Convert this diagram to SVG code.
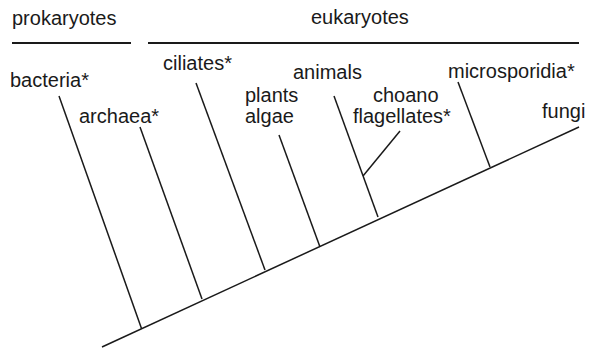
<svg xmlns="http://www.w3.org/2000/svg" width="589" height="348" viewBox="0 0 589 348">
<style>
text{font-family:"Liberation Sans",Arial,sans-serif;font-size:20px;fill:#1a1a1a}
.e line{stroke:#1a1a1a;stroke-width:1.5;stroke-linecap:butt}
.h{stroke:#1a1a1a;stroke-width:2}
</style>
<rect width="589" height="348" fill="#fff"/>
<g id="headers">
<text x="12" y="25">prokaryotes</text>
<line class="h" x1="12" y1="43" x2="131" y2="43"/>
<text x="311" y="24">eukaryotes</text>
<line class="h" x1="148" y1="43" x2="579" y2="43"/>
</g>
<g id="connectors" class="e">
<line x1="102" y1="347" x2="579" y2="127"/>
<line x1="59" y1="96" x2="141.5" y2="328.5"/>
<line x1="140" y1="127" x2="202" y2="299"/>
<line x1="196" y1="83" x2="265" y2="270"/>
<line x1="279" y1="135" x2="320" y2="247"/>
<line x1="334" y1="96" x2="378" y2="217"/>
<line x1="400" y1="131" x2="363" y2="176"/>
<line x1="458" y1="82" x2="490" y2="167"/>
</g>
<g id="bacteria"><text x="10" y="87">bacteria*</text></g>
<g id="archaea"><text x="79" y="123">archaea*</text></g>
<g id="ciliates"><text x="163" y="70">ciliates*</text></g>
<g id="plants"><text x="245" y="102">plants</text><text x="245" y="123">algae</text></g>
<g id="animals"><text x="293" y="79">animals</text></g>
<g id="choano"><text x="373" y="102">choano</text><text x="353" y="123">flagellates*</text></g>
<g id="microsporidia"><text x="448" y="78">microsporidia*</text></g>
<g id="fungi"><text x="542" y="118">fungi</text></g>
</svg>
